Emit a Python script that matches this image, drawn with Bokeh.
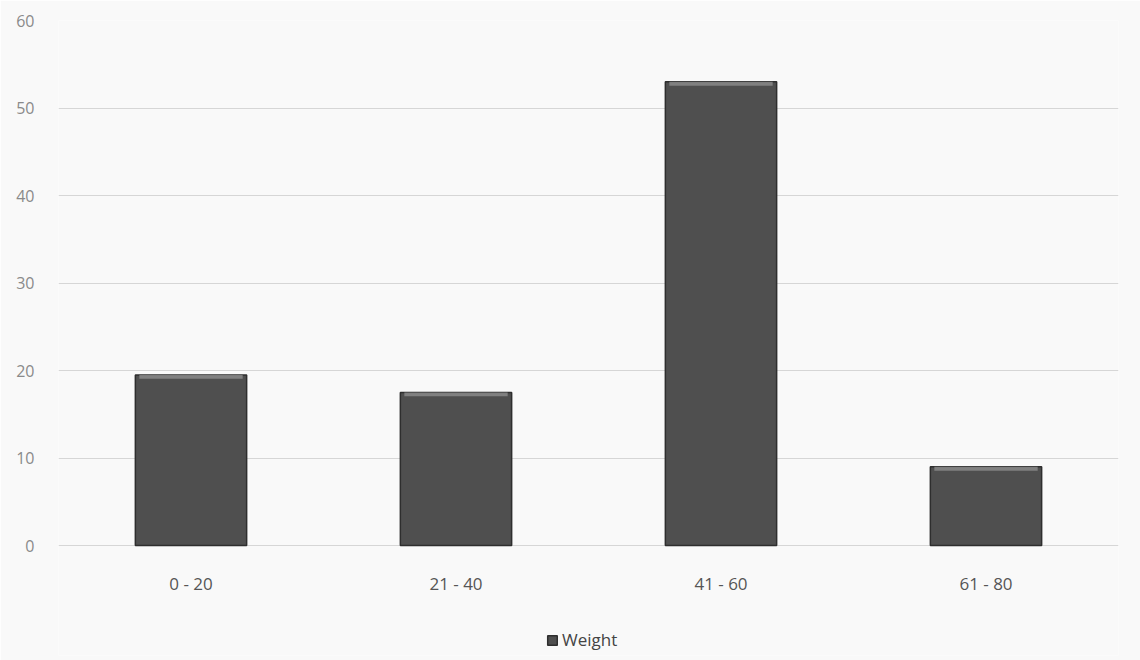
from bokeh.plotting import figure
from bokeh.models import ColumnDataSource, Legend, LegendItem, FactorRange, Range1d, FixedTicker
from bokeh.core.properties import value
from bokeh.embed import file_html
from bokeh.resources import INLINE

# Weight distribution by range
categories = ["0 - 20", "21 - 40", "41 - 60", "61 - 80"]
weight = [19.5, 17.5, 53, 9]
y_ticks = [0, 10, 20, 30, 40, 50, 60]

bevel = [v - 0.45 for v in weight]
src = ColumnDataSource(dict(cat=categories, weight=weight, bevel=bevel,
                            lab_y=[-4.3] * len(categories)))

# The frame reaches below zero so the category labels and the legend
# can be drawn inside it, under the baseline.
p = figure(
    frame_width=1060, frame_height=635,
    x_range=FactorRange(*categories, range_padding=0),
    y_range=Range1d(-12.57, 60),
    output_backend="svg", toolbar_location=None,
    min_border_left=58, min_border_right=22,
    min_border_top=20, min_border_bottom=5,
    background_fill_color="#f9f9f9", border_fill_color="#f9f9f9",
    outline_line_color=None,
)

bars = p.vbar(x="cat", top="weight", width=0.42, source=src,
              fill_color="#4f4f4f", line_color="#2e2e2e", line_width=1.5)
# light bevel along the top edge of each bar
p.vbar(x="cat", top="weight", bottom="bevel", width=0.39, source=src,
       fill_color="#8c8c8c", line_color=None, fill_alpha=0.8)

# category labels under each bar
p.text(x="cat", y="lab_y", text="cat", source=src,
       text_font=value("Open Sans"), text_font_size="17px",
       text_color="#555555", text_align="center", text_baseline="middle")

p.xaxis.visible = False
p.yaxis.ticker = FixedTicker(ticks=y_ticks)
p.xgrid.grid_line_color = None
p.ygrid.grid_line_color = "#d6d6d6"
p.ygrid.grid_line_width = 1

p.yaxis.axis_line_color = None
p.yaxis.major_tick_line_color = None
p.yaxis.minor_tick_line_color = None
p.yaxis.major_label_text_font = "Open Sans"
p.yaxis.major_label_text_color = "#8a8a8a"
p.yaxis.major_label_text_font_size = "16px"
p.yaxis.major_label_standoff = 18

legend = Legend(items=[LegendItem(label="Weight", renderers=[bars])],
                orientation="horizontal", location=(488, 4),
                label_text_font="Open Sans", label_text_font_size="17px",
                label_text_color="#444444", glyph_width=12, glyph_height=12,
                border_line_color=None, background_fill_alpha=0,
                margin=0, padding=2, label_standoff=4)
p.add_layout(legend, "center")

open("out.html", "w").write(file_html(p, INLINE))
